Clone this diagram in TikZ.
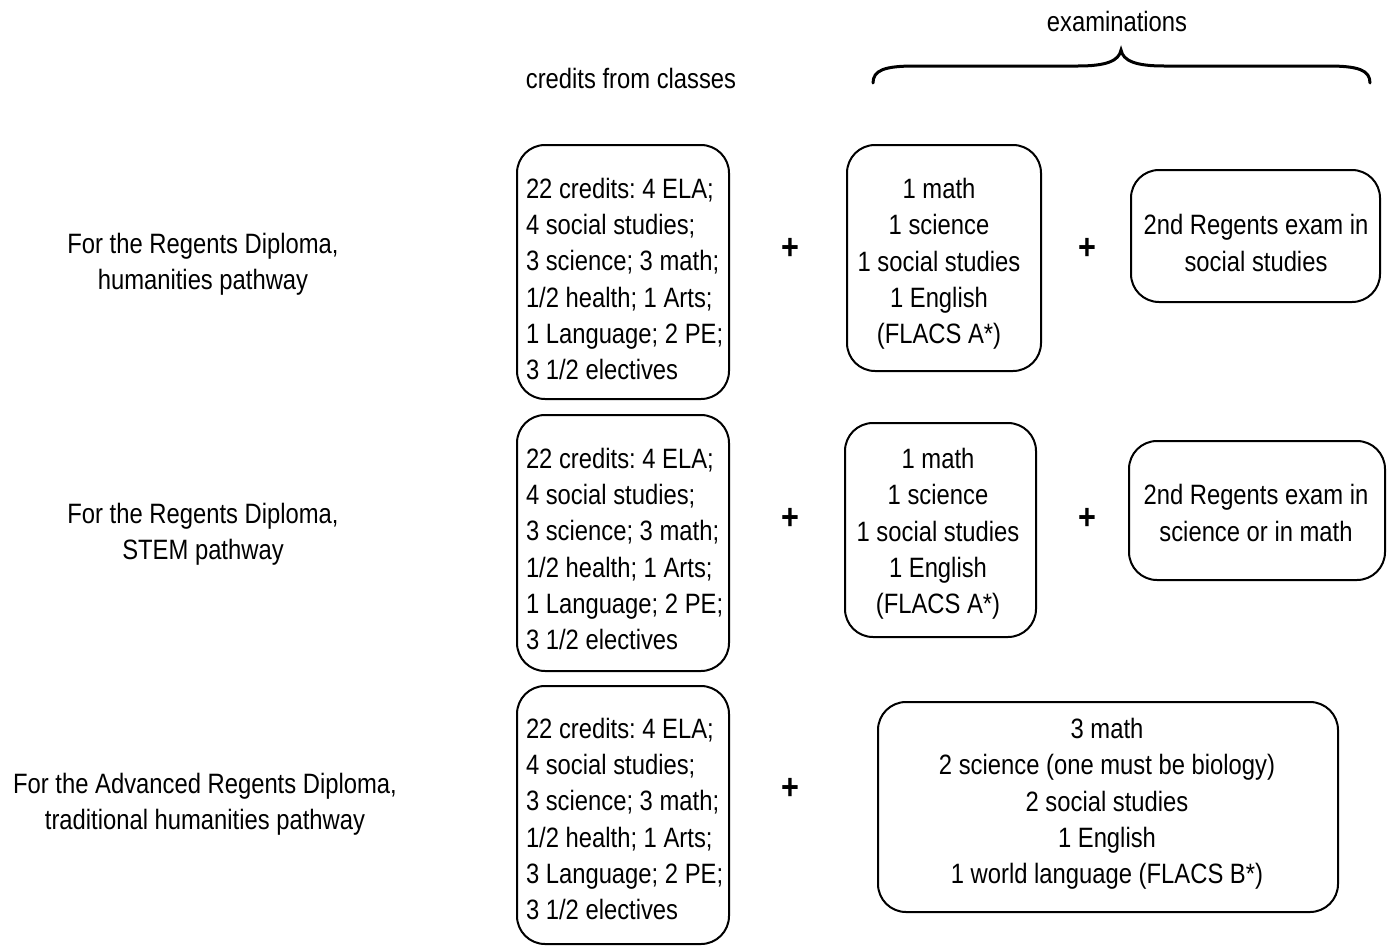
\documentclass[tikz,border=0pt]{standalone}
\usepackage{fontspec}
\setmainfont{Liberation Sans}[FakeStretch=0.85]
\frenchspacing
\begin{document}
\begin{tikzpicture}[x=1pt,y=-1pt,
  every node/.style={font=\fontsize{28}{36.3}\selectfont, inner sep=0pt, outer sep=0pt},
  rbox/.style={draw, line width=2pt, rounded corners=28pt, minimum width=#1},
  rbox/.default=200pt,
  txt/.style={align=center},
  ltxt/.style={align=left, anchor=west},
  plussign/.style={font=\fontsize{36}{40}\selectfont\bfseries},
  brace/.style={line width=3pt, line cap=round}]
\useasboundingbox (0,0) rectangle (1389,945);

% headings
\node (exam) [anchor=base] at (1117,31) {examinations};
\node (cred) [anchor=base] at (631,88) {credits from classes};
\draw[brace] (873,83) .. controls (873,70) and (885,66) .. (915,66) -- (1078,66)
  .. controls (1106,66) and (1119,61) .. (1121,50)
  .. controls (1123,61) and (1136,66) .. (1164,66) -- (1328,66)
  .. controls (1358,66) and (1370,70) .. (1370,83);

% row labels
\node (l1) [txt] at (203,264) {For the Regents Diploma,\\humanities pathway};
\node (l2) [txt] at (203,534) {For the Regents Diploma,\\STEM pathway};
\node (l3) [txt] at (205,804) {For the Advanced Regents Diploma,\\traditional humanities pathway};

% credit boxes
\node (c1) [rbox=212pt, minimum height=254pt] at (623,272) {};
\node (c2) [rbox=212pt, minimum height=256pt] at (623,543) {};
\node (c3) [rbox=212pt, minimum height=258pt] at (623,815) {};
\node (c1t) [ltxt] at (526,279) {22 credits: 4 ELA;\\4 social studies;\\3 science; 3 math;\\1/2 health; 1 Arts;\\1 Language; 2 PE;\\3 1/2 electives};
\node (c2t) [ltxt] at (526,549) {22 credits: 4 ELA;\\4 social studies;\\3 science; 3 math;\\1/2 health; 1 Arts;\\1 Language; 2 PE;\\3 1/2 electives};
\node (c3t) [ltxt] at (526,819) {22 credits: 4 ELA;\\4 social studies;\\3 science; 3 math;\\1/2 health; 1 Arts;\\3 Language; 2 PE;\\3 1/2 electives};

% plus signs
\node (p1) [plussign] at (790,249) {+};
\node (p2) [plussign] at (790,519) {+};
\node (p3) [plussign] at (790,789) {+};
\node (p4) [plussign] at (1087,249) {+};
\node (p5) [plussign] at (1087,519) {+};

% exam boxes
\node (e1) [rbox=194pt, minimum height=226pt] at (944,258) {};
\node (e1t) [txt] at (939,264) {1 math\\1 science\\1 social studies\\1 English\\(FLACS A*)};
\node (e2) [rbox=191pt, minimum height=214pt] at (940.5,530) {};
\node (e2t) [txt] at (938,534) {1 math\\1 science\\1 social studies\\1 English\\(FLACS A*)};
\node (r1) [rbox=249pt, minimum height=132pt] at (1255.5,236) {};
\node (r1t) [txt] at (1256,243) {2nd Regents exam in\\social studies};
\node (r2) [rbox=256pt, minimum height=139pt] at (1257,510.5) {};
\node (r2t) [txt] at (1256,513) {2nd Regents exam in\\science or in math};
\node (e3) [rbox=460pt, minimum height=210pt] at (1108,807) {};
\node (e3t) [txt] at (1107,804) {3 math\\2 science (one must be biology)\\2 social studies\\1 English\\1 world language (FLACS B*)};
\end{tikzpicture}
\end{document}
